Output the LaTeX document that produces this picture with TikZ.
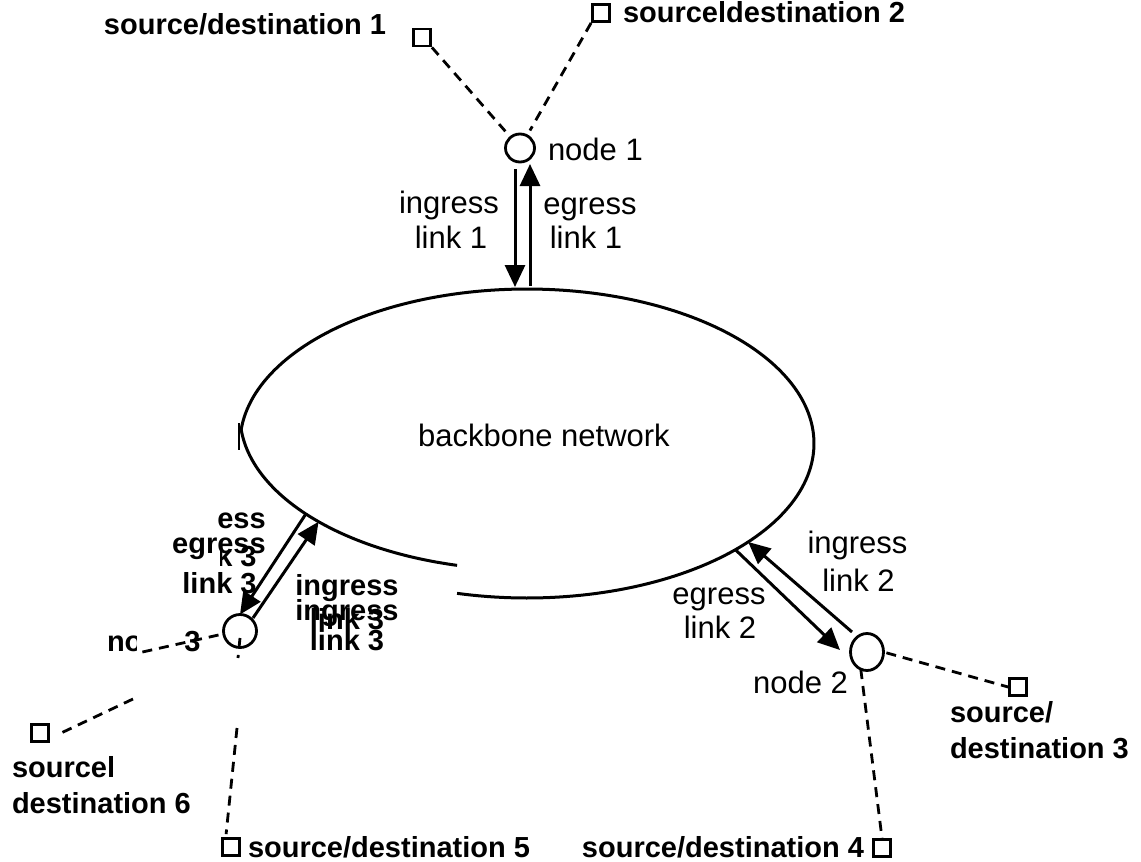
\documentclass[tikz,border=0pt]{standalone}
\usepackage{fontspec}
\setmainfont{Liberation Sans}
\usetikzlibrary{arrows.meta,shapes.geometric,calc}

\begin{document}
\begin{tikzpicture}[x=0.5pt,y=-0.5pt,
  txt/.style={font=\fontsize{15.5}{18}\selectfont, inner sep=0pt, outer sep=0pt},
  btxt/.style={font=\bfseries\fontsize{14.5}{18}\selectfont, inner sep=0pt, outer sep=0pt},
  terminal/.style={draw, rectangle, minimum size=8.6pt, inner sep=0pt, line width=1.3pt},
  hub/.style={draw, ellipse, inner sep=0pt, outer sep=0pt, line width=1.4pt},
  cloudzone/.style={ellipse, inner sep=0pt, outer sep=0pt, minimum width=287pt, minimum height=154.5pt},
  feeder/.style={line width=1.4pt, dash pattern=on 5pt off 3.5pt},
  linkarrow/.style={line width=1.5pt, -{Triangle[length=11pt,width=10pt]}},
  rim/.style={line width=1.5pt},
]
\useasboundingbox (0,0) rectangle (1141,862);

% backbone network outline (drawn in two pieces)
\node[cloudzone] (bb) at (527,443.5) {};
\node[cloudzone] (bbl) at (527,415.5) {};
\draw[rim] plot[domain=185:464.1, samples=180] ({527+287*cos(\x)},{443.5+154.5*sin(\x)});
\draw[rim] plot[domain=104.1:175, samples=80] ({527+287*cos(\x)},{415.5+154.5*sin(\x)});
\draw[line width=1pt] (239,423) -- (239,450);
\node[txt, anchor=base] (bbtext) at (544,446) {backbone network};

% access nodes
\node[hub, minimum width=14.5pt, minimum height=14pt] (n1) at (520,148) {};
\node[hub, minimum width=16.5pt, minimum height=18.5pt] (n2) at (867,652) {};
\node[hub, minimum width=16.5pt, minimum height=16.5pt] (n3) at (240,631) {};

% sources / destinations
\node[terminal] (sd1) at (422,37.5) {};
\node[terminal] (sd2) at (601,13) {};
\node[terminal] (sd3) at (1018,687) {};
\node[terminal] (sd4) at (882,848) {};
\node[terminal] (sd5) at (231,847) {};
\node[terminal] (sd6) at (40,733) {};

% labels
\node[btxt, anchor=base east] (l1) at (386,34) {source/destination 1};
\node[btxt, anchor=base west] (l2) at (623,23) {sourceldestination 2};
\node[txt, anchor=base west] (n1lab) at (548,160) {node 1};
\node[txt, anchor=base] (in1a) at (449,213) {ingress};
\node[txt, anchor=base] (in1b) at (451,248) {link 1};
\node[txt, anchor=base] (eg1a) at (590,214) {egress};
\node[txt, anchor=base] (eg1b) at (586,248) {link 1};
\node[txt, anchor=base] (in2a) at (857.5,553) {ingress};
\node[txt, anchor=base] (in2b) at (858.5,591) {link 2};
\node[txt, anchor=base] (eg2a) at (719,604) {egress};
\node[txt, anchor=base] (eg2b) at (720,638) {link 2};
\node[txt, anchor=base east] (n2lab) at (848,693) {node 2};
\node[btxt, anchor=base west] (l3a) at (950,722) {source/};
\node[btxt, anchor=base west] (l3b) at (950,758) {destination 3};
\node[btxt, anchor=base east] (l4) at (864,857) {source/destination 4};
\node[btxt, anchor=base west] (l5) at (248,857) {source/destination 5};
\node[btxt, anchor=base west] (l6a) at (12,777) {sourcel};
\node[btxt, anchor=base west] (l6b) at (12,813) {destination 6};
\node[btxt, anchor=base west] (n3lab) at (107,651) {node 3};
\fill[white] (137,626) rectangle (183,658);

% link 3 labels (overprinted)
\begin{scope}
  \clip (217,490) rectangle (280,535);
  \node[btxt, anchor=base] (eg3g) at (219,528) {egress};
\end{scope}
\node[btxt, anchor=base] (eg3a) at (219,553) {egress};
\begin{scope}
  \clip (220,540) rectangle (280,580);
  \node[btxt, anchor=base] (eg3h) at (219.5,566) {link 3};
\end{scope}
\node[btxt, anchor=base] (eg3b) at (219.5,593) {link 3};
\node[btxt, anchor=base] (in3a) at (347,595) {ingress};
\node[btxt, anchor=base] (in3b) at (347,620) {ingress};
\node[btxt, anchor=base] (in3c) at (347,629) {link 3};
\node[btxt, anchor=base] (in3d) at (347,650) {link 3};

% access lines
\draw[feeder, shorten >=4pt] (sd1.south east) -- (n1);
\draw[feeder, shorten >=3pt] (sd2.south west) -- (n1);
\draw[feeder, shorten <=1.5pt] (n2.east) -- (sd3.west);
\draw[feeder] (n2.250) -- (sd4.north);
\coordinate (c6a) at (138,653);
\coordinate (c6b) at (133,699);
\draw[feeder] ($(n3.west)+(-5,4)$) -- (c6a);
\draw[feeder] (c6b) -- ($(sd6.east)+(7,2)$);
\coordinate (c5a) at (238,658);
\coordinate (c5b) at (237,728);
\draw[feeder] ($(n3.center)+(0,7)$) -- (c5a);
\draw[feeder] (c5b) -- ($(sd5.north west)+(5,-3)$);

% ingress / egress links
\draw[linkarrow] ($(n1.south)+(-5,7)$) -- ($(bb.north)+(-12,-2)$);
\draw[linkarrow] ($(bb.north)+(3,-3)$) -- ($(n1.south)+(10,2)$);
\draw[linkarrow] ($(n2.center)+(-15,-20)$) -- (bb.-24);
\draw[linkarrow] (bb.-27) -- ($(n2.center)+(-27,-2)$);
\draw[linkarrow] (bbl.204) -- (n3.north);
\draw[linkarrow] ($(n3.center)+(13,-13)$) -- (bbl.207);
\end{tikzpicture}
\end{document}
